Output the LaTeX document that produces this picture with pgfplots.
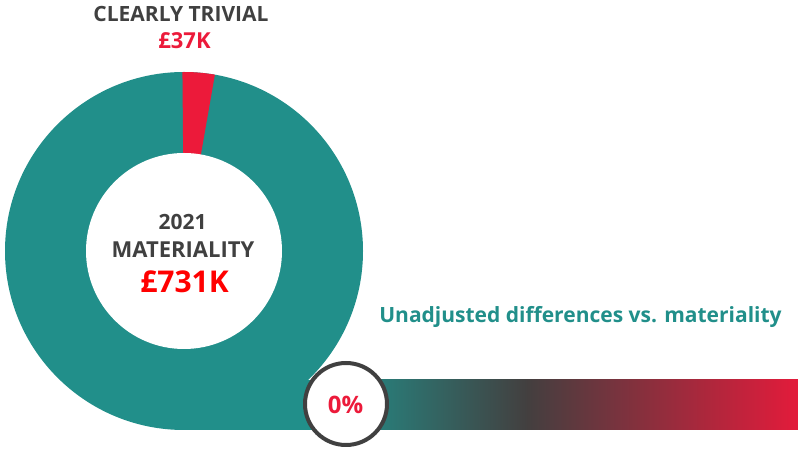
\documentclass[border=0pt]{standalone}
\usepackage{pgfplots}
\pgfplotsset{compat=1.18}
\usepackage{pgfplotstable}
\usepackage{fontspec}
\setmainfont{Open Sans}
\definecolor{tealA}{RGB}{33,143,138}
\definecolor{redA}{RGB}{236,26,58}
\definecolor{redB}{RGB}{255,0,0}
\definecolor{grayA}{RGB}{64,64,64}
\definecolor{grayMid}{RGB}{67,63,63}
\definecolor{redEnd}{RGB}{227,27,59}

% share of the ring (percent) as drawn
\pgfplotstableread{
segment share
trivial 2.9
remainder 97.1
}\ringdata

\begin{document}
\begin{tikzpicture}
\pgfplotstablegetelem{0}{share}\of\ringdata
\pgfmathsetmacro\astart{90.5}
\pgfmathsetmacro\aend{90.5-3.6*\pgfplotsretval}
\begin{axis}[name=ax, scale only axis, width=798pt, height=449pt,
  xmin=0, xmax=798, ymin=0, ymax=449, hide axis, clip=false]
\fill[tealA] (axis cs:184,198) circle[radius=179pt];
\fill[tealA] (axis cs:184,19) rectangle (axis cs:331,69);
\shade[left color=tealA, right color=grayMid] (axis cs:330,19) rectangle (axis cs:528,69);
\shade[left color=grayMid, right color=redEnd] (axis cs:527,19) rectangle (axis cs:798,69);
\fill[redA] (axis cs:184,198) -- ++(\astart:179pt) arc[start angle=\astart, end angle=\aend, radius=179pt] -- cycle;
\fill[white] (axis cs:184,198) circle[radius=98pt];
\draw[line width=4pt, color=grayA, fill=white] (axis cs:346,45) circle[radius=41pt];
\node[anchor=base, text=grayA, font=\fontsize{21}{21}\selectfont\bfseries, inner sep=0pt] at (axis cs:181,427) {CLEARLY TRIVIAL};
\node[anchor=base, text=redA, font=\fontsize{22}{22}\selectfont\bfseries, inner sep=0pt] at (axis cs:184.5,400) {£37K};
\node[anchor=base, text=grayA, font=\fontsize{21}{21}\selectfont\bfseries, inner sep=0pt] at (axis cs:182.5,219) {2021};
\node[anchor=base, text=grayA, font=\fontsize{22}{22}\selectfont\bfseries, inner sep=0pt] at (axis cs:183,191) {MATERIALITY};
\node[anchor=base, text=redB, font=\fontsize{30}{30}\selectfont\bfseries, inner sep=0pt] at (axis cs:184.5,156) {£731K};
\node[anchor=base, text=tealA, font=\fontsize{21}{21}\selectfont\bfseries, inner sep=0pt] at (axis cs:580.5,126) {Unadjusted differences vs. materiality};
\node[anchor=base, text=redA, font=\fontsize{24}{24}\selectfont\bfseries, inner sep=0pt] at (axis cs:345.5,35) {0\%};
\end{axis}
\pgfresetboundingbox
\path[use as bounding box] (ax.south west) rectangle (ax.north east);
\end{tikzpicture}
\end{document}
